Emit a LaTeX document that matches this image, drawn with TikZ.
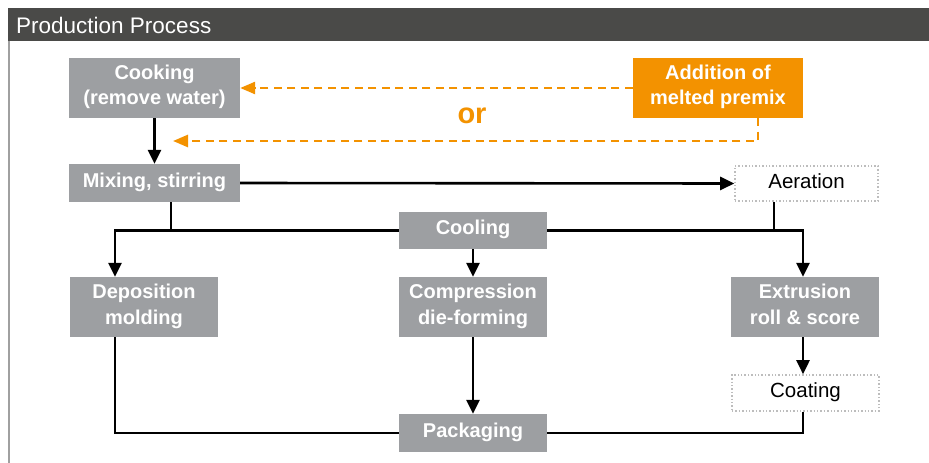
\documentclass[tikz,border=0pt]{standalone}
\usepackage{fontspec}
\setmainfont{Liberation Sans}
\usetikzlibrary{arrows.meta}
\definecolor{boxgray}{HTML}{9D9FA2}
\definecolor{headgray}{HTML}{4A4A48}
\definecolor{premix}{HTML}{F39200}
\definecolor{dotgray}{HTML}{BDBDBD}
\definecolor{bordergray}{HTML}{A0A0A0}
\newcommand\lnstrut{\rule[-5.5pt]{0pt}{19.5pt}}
\begin{document}
\begin{tikzpicture}[x=1pt,y=-1pt,
  greybox/.style={fill=boxgray, text=white, font=\bfseries\fontsize{20}{25}\selectfont, align=center, inner sep=0pt},
  orangebox/.style={fill=premix, text=white, font=\bfseries\fontsize{20}{25}\selectfont, align=center, inner sep=0pt},
  dotbox/.style={draw=dotgray, dash pattern=on 1.4pt off 2pt, line width=1.6pt, text=black, font=\fontsize{20.5}{25}\selectfont, align=center, inner sep=0pt},
  link/.style={line width=2.6pt, black},
  conn/.style={link, -{Triangle[length=14pt,width=13pt]}},
  orconn/.style={line width=2.6pt, premix, dash pattern=on 8pt off 5.5pt, -{Triangle[length=15pt,width=12pt]}}]
\useasboundingbox (0,0) rectangle (929,463);
\fill[white] (0,0) rectangle (929,463);
\fill[headgray] (8,8) rectangle (929,41);
\node[anchor=west, text=white, inner sep=0pt, font=\fontsize{22.5}{26}\selectfont] (title) at (16,25) {Production Process};
\draw[bordergray, line width=1.6pt] (8.8,41) -- (8.8,463);
% nodes
\node[greybox, minimum width=171pt, minimum height=60pt] (cook) at (154.5,88) {\lnstrut Cooking\\\lnstrut(remove water)};
\node[orangebox, minimum width=170pt, minimum height=60pt] (add) at (718,88) {\lnstrut Addition of\\\lnstrut melted premix};
\node[greybox, minimum width=171pt, minimum height=38pt] (mix) at (154.5,183) {\lnstrut Mixing, stirring};
\node[dotbox, minimum width=143pt, minimum height=35pt] (aer) at (806.5,183.5) {\lnstrut Aeration};
\node[greybox, minimum width=148pt, minimum height=37pt] (cool) at (473,230.5) {\lnstrut Cooling};
\node[greybox, minimum width=148pt, minimum height=60pt] (dep) at (144,307) {\lnstrut Deposition\\\lnstrut molding};
\node[greybox, minimum width=148pt, minimum height=60pt] (comp) at (473,307) {\lnstrut Compression\\\lnstrut die-forming};
\node[greybox, minimum width=148pt, minimum height=60pt] (ext) at (805,307) {\lnstrut Extrusion\\\lnstrut roll \& score};
\node[dotbox, minimum width=147pt, minimum height=36pt] (coat) at (805.5,393) {\lnstrut Coating};
\node[greybox, minimum width=148pt, minimum height=38pt] (pack) at (473,433) {\lnstrut Packaging};
\node[text=premix, inner sep=0pt, font=\bfseries\fontsize{29}{30}\selectfont] (or) at (472,116) {or};
% junction coordinates
\coordinate (orend) at (173,141);
\coordinate (j1) at (171,230);
\coordinate (j2) at (774,230);
% connectors
\draw[conn] (cook.south) -- (mix.north);
\draw[orconn] (add.west) -- (cook.east);
\draw[orconn] ([xshift=40pt]add.south) |- (orend);
\draw[conn] (mix.east) -- (aer.west);
\draw[link] ([xshift=16.5pt]mix.south) -- (j1);
\draw[conn] (cool.west) -| ([xshift=-29pt]dep.north);
\draw[link] ([xshift=-32.5pt]aer.south) -- (j2);
\draw[conn] (cool.east) -| ([xshift=-2pt]ext.north);
\draw[conn] (cool.south) -- (comp.north);
\draw[conn] ([xshift=-2pt]ext.south) -- ([xshift=-2.5pt]coat.north);
\draw[link] ([xshift=-29pt]dep.south) |- (pack.west);
\draw[conn] (comp.south) -- (pack.north);
\draw[link] ([xshift=-2.5pt]coat.south) |- (pack.east);
\end{tikzpicture}
\end{document}
